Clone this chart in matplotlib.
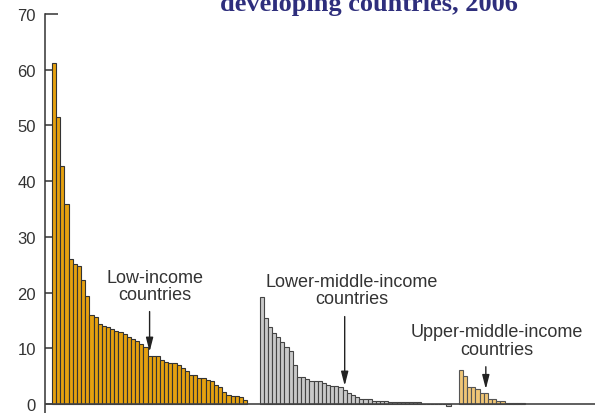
import matplotlib
matplotlib.use("Agg")
import matplotlib.pyplot as plt
import numpy as np

# values, sorted high to low within each income group
low_income = [61.2, 51.5, 42.8, 35.9, 26.0, 25.1, 24.8, 22.3, 19.4, 16.0,
              15.7, 14.4, 14.1, 13.8, 13.5, 13.2, 12.9, 12.5, 12.1, 11.7,
              11.3, 10.8, 10.3, 8.7, 8.6, 8.6, 7.9, 7.6, 7.3, 7.3,
              7.1, 6.5, 6.0, 5.3, 5.3, 4.7, 4.6, 4.4, 4.1, 3.5,
              3.0, 2.2, 1.7, 1.5, 1.4, 1.2, 0.7]
lower_middle = [19.2, 15.4, 13.8, 12.7, 12.0, 11.1, 10.2, 9.6, 7.0, 4.8,
                4.8, 4.5, 4.2, 4.2, 4.1, 3.8, 3.5, 3.3, 3.2, 3.0,
                2.6, 2.0, 1.6, 1.2, 1.0, 1.0, 1.0, 0.6, 0.6, 0.6,
                0.6, 0.3, 0.3, 0.3, 0.3, 0.3, 0.3, 0.3, 0.3, 0.0,
                0.0, 0.0, 0.0, 0.0, 0.0, -0.4]
upper_middle = [6.2, 5.1, 3.1, 3.1, 2.7, 2.0, 2.0, 0.9, 0.9, 0.5,
                0.5, 0.2, 0.2, 0.2, 0.2, 0.2]

group_labels = ["Low-income\ncountries", "Lower-middle-income\ncountries",
                "Upper-middle-income\ncountries"]
pointed_bar = [23, 20, 6]          # bar each arrow points at (index in group)
yticks = [0, 10, 20, 30, 40, 50, 60, 70]

# layout
groups = [low_income, lower_middle, upper_middle]
gaps = [0, 3, 2]
fills = ["#E5A10F", "#C9C9C9", "#F0C676"]
edges = ["#333333", "#444444", "#555555"]
text_pos = [(24.3, 21.2), (71.8, 20.5), (106.7, 11.4)]
arrow_tail = [17.1, 16.2, 7.2]

fig = plt.figure(figsize=(5.95, 4.14), dpi=100)
ax = fig.add_axes([0.0756, 0.0, 0.9244, 0.9638])

start = 0
for i, vals in enumerate(groups):
    start += gaps[i]
    x = np.arange(start, start + len(vals))
    ax.bar(x, vals, width=1.0, color=fills[i], edgecolor=edges[i], linewidth=0.8)
    k = pointed_bar[i]
    ax.annotate("", xy=(x[k], vals[k] + 0.2), xytext=(x[k], arrow_tail[i]),
                arrowprops=dict(arrowstyle="-|>,head_width=0.18,head_length=0.7",
                                color="#222222", lw=1.0, mutation_scale=12))
    ax.text(text_pos[i][0], text_pos[i][1], group_labels[i], ha="center", va="center",
            fontsize=13, color="#333333", family="Liberation Sans", linespacing=1.05)
    start += len(vals)

ax.axhline(0, color="#444444", lw=1.2, zorder=3)
ax.set_xlim(-2.2, 130.3)
ax.set_ylim(-1.6, 70)
ax.set_yticks(yticks)
ax.tick_params(axis="y", direction="in", length=6, width=1.1, color="#333333",
               labelsize=12, labelcolor="#333333", pad=6.5)
for lab in ax.get_yticklabels():
    lab.set_family("Liberation Sans")
# the top tick is drawn longer in the original
ax.yaxis.get_major_ticks()[-1].tick1line.set_markersize(9)
ax.set_xticks([])
for s in ["top", "right", "bottom"]:
    ax.spines[s].set_visible(False)
ax.spines["left"].set_color("#333333")
ax.spines["left"].set_linewidth(1.1)

fig.text(369 / 595, 1 - 11 / 414, "developing countries, 2006", ha="center",
         va="baseline", fontsize=19, fontweight="bold", color="#2E2E7C",
         family="Liberation Serif")

fig.savefig("out.png", dpi=100)
